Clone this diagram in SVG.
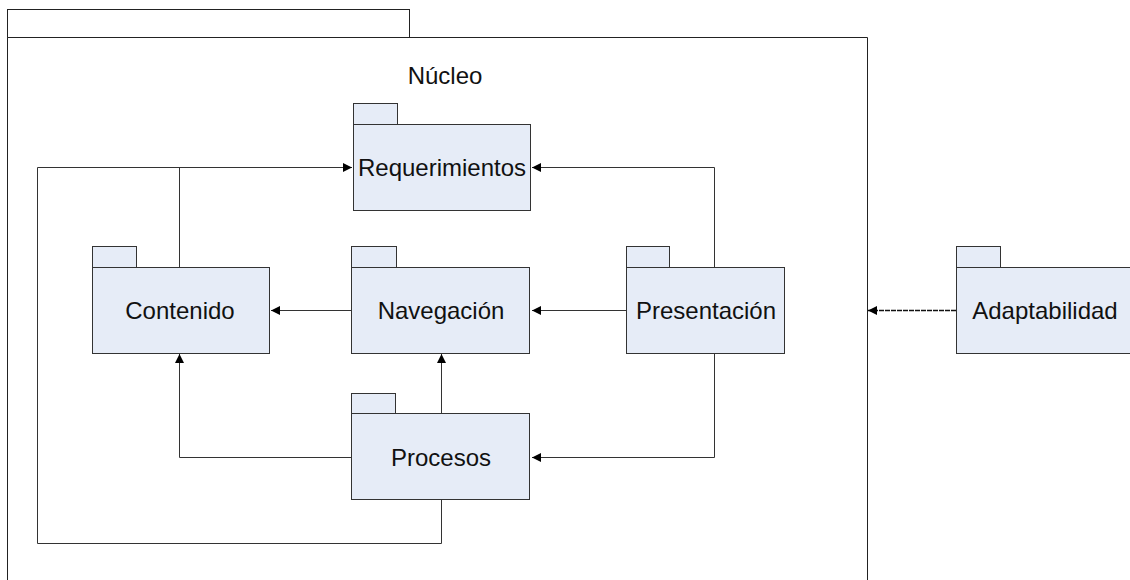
<svg xmlns="http://www.w3.org/2000/svg" width="1130" height="580" viewBox="0 0 1130 580">
<style>
.pk{fill:#e6ecf7;stroke:#333;stroke-width:1}
.fr{fill:#fff;stroke:#222;stroke-width:1}
.ln{fill:none;stroke:#333;stroke-width:1}
.t{font-family:"Liberation Sans",Arial,sans-serif;font-size:24px;fill:#111;text-anchor:middle}
</style>
<defs>
<marker id="ah" viewBox="0 0 10 10" refX="10" refY="5" markerWidth="10" markerHeight="9" markerUnits="userSpaceOnUse" orient="auto">
<path d="M0,0 L10,5 L0,10 Z" fill="#000"/>
</marker>
</defs>
<rect width="1130" height="580" fill="#fff"/>
<g id="nucleo">
<rect class="fr" x="7.5" y="9.5" width="402" height="28"/>
<path class="fr" d="M7.5,590 V37.5 H867.5 V590"/>
<text class="t" x="445" y="84">Núcleo</text>
</g>
<g id="connectors">
<path class="ln" d="M37.5,167.5 H352" marker-end="url(#ah)"/>
<path class="ln" d="M179.5,267 V167.5"/>
<path class="ln" d="M441.5,500 V543.5 H37.5 V167.5"/>
<path class="ln" d="M714.5,267 V167.5 H532" marker-end="url(#ah)"/>
<path class="ln" d="M714.5,353 V457.5 H532" marker-end="url(#ah)"/>
<path class="ln" d="M626,310.5 H532" marker-end="url(#ah)"/>
<path class="ln" d="M351,310.5 H271" marker-end="url(#ah)"/>
<path class="ln" d="M441.5,413 V354" marker-end="url(#ah)"/>
<path class="ln" d="M351,457.5 H179.5 V354" marker-end="url(#ah)"/>
<path class="ln" d="M956,310.5 H868" stroke-dasharray="5 1" style="stroke:#111;stroke-width:1.5" marker-end="url(#ah)"/>
</g>
<g id="requerimientos">
<rect class="pk" x="353.5" y="103.5" width="44" height="21"/>
<rect class="pk" x="353.5" y="124.5" width="177" height="86"/>
<text class="t" x="442" y="175.5">Requerimientos</text>
</g>
<g id="contenido">
<rect class="pk" x="92.5" y="246.5" width="44" height="21"/>
<rect class="pk" x="92.5" y="267.5" width="177" height="86"/>
<text class="t" x="180" y="318.5">Contenido</text>
</g>
<g id="navegacion">
<rect class="pk" x="351.5" y="246.5" width="45" height="21"/>
<rect class="pk" x="351.5" y="267.5" width="178" height="86"/>
<text class="t" x="441" y="318.5">Navegación</text>
</g>
<g id="presentacion">
<rect class="pk" x="626.5" y="246.5" width="43" height="21"/>
<rect class="pk" x="626.5" y="267.5" width="158" height="86"/>
<text class="t" x="706" y="318.5">Presentación</text>
</g>
<g id="adaptabilidad">
<rect class="pk" x="956.5" y="246.5" width="44" height="21"/>
<rect class="pk" x="956.5" y="267.5" width="178" height="86"/>
<text class="t" x="1045" y="318.5">Adaptabilidad</text>
</g>
<g id="procesos">
<rect class="pk" x="351.5" y="393.5" width="44" height="20"/>
<rect class="pk" x="351.5" y="413.5" width="178" height="86"/>
<text class="t" x="441" y="465.5">Procesos</text>
</g>
</svg>
